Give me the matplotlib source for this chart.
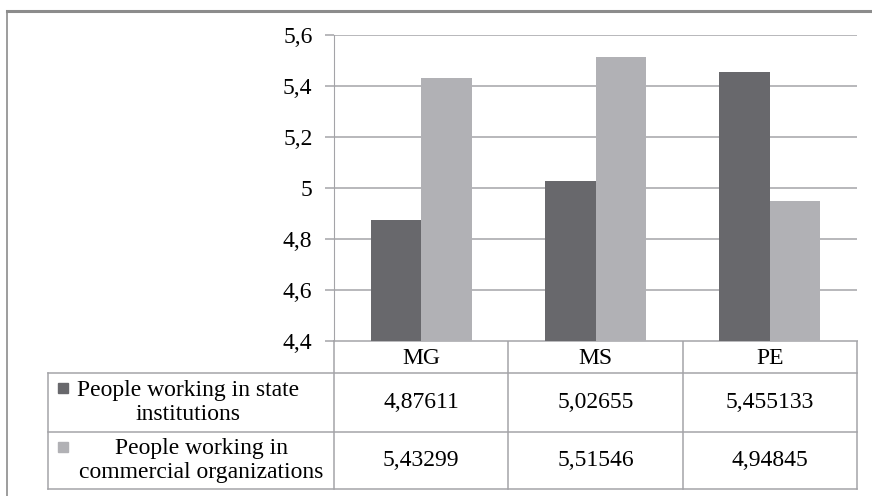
import matplotlib
matplotlib.use('Agg')
from matplotlib import pyplot as plt
from matplotlib.ticker import FuncFormatter
import numpy as np

# data
categories = ['MG', 'MS', 'PE']
series_names = ['People working in state\ninstitutions', 'People working in\ncommercial organizations']
state_values = [4.87611, 5.02655, 5.455133]
commercial_values = [5.43299, 5.51546, 4.94845]
state_labels = ['4,87611', '5,02655', '5,455133']
commercial_labels = ['5,43299', '5,51546', '4,94845']
y_ticks = [4.4, 4.6, 4.8, 5.0, 5.2, 5.4, 5.6]

dark = '#68686c'
light = '#b1b1b5'
line_col = '#a4a4a8'

plt.rcParams['font.family'] = ['Liberation Serif', 'DejaVu Serif']

W, H = 872, 496
fig = plt.figure(figsize=(W / 100, H / 100), dpi=100)

# plot area (pixel layout)
left, right, top, bottom = 334, 857, 35, 341
ax = fig.add_axes([left / W, 1 - bottom / H, (right - left) / W, (bottom - top) / H])

x = np.arange(len(categories))
bw = 0.29
ax.bar(x - bw / 2, state_values, bw, color=dark, zorder=3)
ax.bar(x + bw / 2, commercial_values, bw, color=light, zorder=3)

ax.set_xlim(-0.5, len(categories) - 0.5)
ax.set_ylim(4.4, 5.6)
ax.set_yticks(y_ticks)
ax.yaxis.set_major_formatter(FuncFormatter(lambda v, p: ('%g' % round(v, 1)).replace('.', ',')))
ax.grid(axis='y', color=line_col, linewidth=1.1, zorder=0)
ax.set_xticks([])
for s in ['top', 'right', 'bottom']:
    ax.spines[s].set_visible(False)
ax.spines['left'].set_color(line_col)
ax.tick_params(axis='y', length=6.5, width=1.1, color=line_col, labelsize=17, pad=9, labelcolor='black')

# overlay for the data table and frame
ov = fig.add_axes([0, 0, 1, 1], zorder=-1)
ov.set_xlim(0, W)
ov.set_ylim(H, 0)
ov.axis('off')

fig.canvas.draw()
col_edges = [ax.transData.transform((i - 0.5, 4.4))[0] for i in range(len(categories) + 1)]

row_y = [bottom, 373, 432, 489]
tab_left = 48

# horizontal lines
ov.plot([col_edges[0], col_edges[-1]], [row_y[0], row_y[0]], color=line_col, lw=1.1)
for yy in row_y[1:]:
    ov.plot([tab_left, col_edges[-1]], [yy, yy], color=line_col, lw=1.1)
# vertical lines
for xx in col_edges:
    ov.plot([xx, xx], [row_y[0], row_y[-1]], color=line_col, lw=1.1)
ov.plot([tab_left, tab_left], [row_y[1], row_y[-1]], color=line_col, lw=1.1)

# outer frame
ov.plot([7, W], [11, 11], color='#8c8c8c', lw=2.2)
ov.plot([7, 7], [11, H], color='#8c8c8c', lw=1.2)

fs = 17
for i, cat in enumerate(categories):
    cx = (col_edges[i] + col_edges[i + 1]) / 2
    ov.text(cx, (row_y[0] + row_y[1]) / 2 + 1, cat, ha='center', va='center', fontsize=fs)
    ov.text(cx, (row_y[1] + row_y[2]) / 2, state_labels[i], ha='center', va='center', fontsize=fs)
    ov.text(cx, (row_y[2] + row_y[3]) / 2, commercial_labels[i], ha='center', va='center', fontsize=fs)

# row labels with legend markers
label_cx = [188, 201]
colors = [dark, light]
for r in range(2):
    y0, y1 = row_y[r + 1], row_y[r + 2]
    ov.add_patch(plt.Rectangle((58, y0 + 10), 10, 10, color=colors[r]))
    ov.text(label_cx[r], (y0 + y1) / 2, series_names[r], ha='center', va='center',
            fontsize=fs, linespacing=1.15)

fig.savefig('out.png', dpi=100)
